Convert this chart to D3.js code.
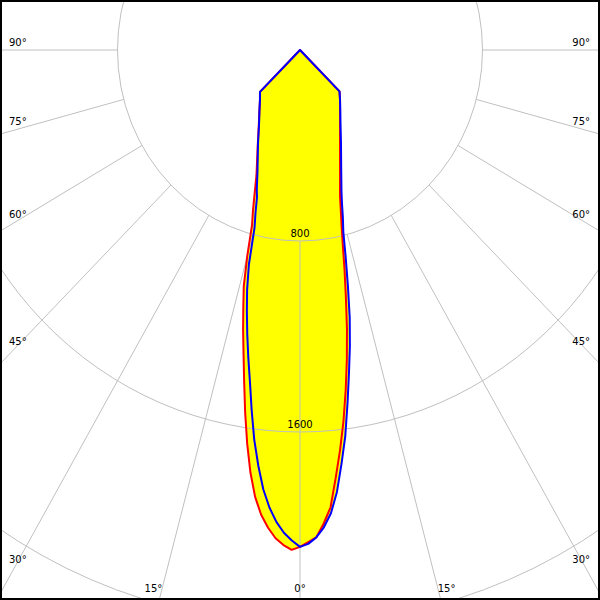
<!DOCTYPE html>
<html><head><meta charset="utf-8">
<script src="https://cdn.jsdelivr.net/npm/d3@7"></script>
<style>html,body{margin:0;padding:0;background:#fff;} svg{display:block;}</style>
</head><body>
<svg id="chart" width="600" height="600"></svg>
<script>
// Gamma angles (degrees from nadir) and luminous intensities (cd)
const gammaAngles = [0,1,2,3,4,5,6,7,8,9,10,11,12,13,14,15,16,17,18,20,25,30,35,40,45,50,60,70,80,90];
const redLeft   = [2081,2094,2075,2048,2006,1954,1882,1783,1664,1537,1410,1297,1200,1105,1019,893,763,706,649,558,438,361,310,273,248,0,0,0,0,0];
const redRight  = [2081,2062,2043,1986,1920,1798,1683,1565,1439,1313,1186,1054,938,832,752,690,636,600,568,513,415,351,306,273,245,0,0,0,0,0];
const blueLeft  = [2081,2055,2023,1979,1921,1847,1750,1645,1523,1404,1306,1212,1120,1031,926,770,707,645,613,545,436,359,310,273,248,0,0,0,0,0];
const blueRight = [2081,2069,2043,2002,1945,1858,1742,1629,1496,1372,1259,1142,1010,890,785,726,667,622,587,528,425,355,308,273,245,0,0,0,0,0];
const ringValues = [800, 1600, 2400];
const angleTicks = [0, 15, 30, 45, 60, 75, 90];

const W = 600, H = 600, cx = 300, cy = 50;
const sx = d3.scaleLinear().domain([0, 800]).range([0, 182.5]);
const sy = d3.scaleLinear().domain([0, 800]).range([0, 191]);
const rad = d => d * Math.PI / 180;
const px = (g, I) => cx + sx(I) * Math.sin(rad(g));
const py = (g, I) => cy + sy(I) * Math.cos(rad(g));

const svg = d3.select("#chart");
svg.append("defs").append("clipPath").attr("id", "clip")
  .append("rect").attr("x", 2).attr("y", 2).attr("width", W - 4).attr("height", H - 4);
const g = svg.append("g").attr("clip-path", "url(#clip)");

function curvePoints(left, right) {
  const pts = [];
  for (let i = gammaAngles.length - 1; i >= 0; i--) pts.push([-gammaAngles[i], left[i]]);
  for (let i = 1; i < gammaAngles.length; i++) pts.push([gammaAngles[i], right[i]]);
  return pts;
}
const line = d3.line().x(d => px(d[0], d[1])).y(d => py(d[0], d[1])).curve(d3.curveLinear);
const redPts = curvePoints(redLeft, redRight);
const bluePts = curvePoints(blueLeft, blueRight);

// yellow fill
g.append("path").attr("d", line(redPts) + "Z").attr("fill", "#ffff00").attr("stroke", "none");
g.append("path").attr("d", line(bluePts) + "Z").attr("fill", "#ffff00").attr("stroke", "none");

// grid
const gridColor = "#c0c0c0";
g.selectAll("ellipse.ring").data(ringValues).join("ellipse")
  .attr("cx", cx).attr("cy", cy)
  .attr("rx", d => sx(d)).attr("ry", d => sy(d))
  .attr("fill", "none").attr("stroke", gridColor).attr("stroke-width", 1);

const radial = [];
angleTicks.forEach(a => { radial.push(-a); if (a !== 0) radial.push(a); });
g.selectAll("line.rad").data(radial).join("line")
  .attr("x1", d => px(d, ringValues[0])).attr("y1", d => py(d, ringValues[0]))
  .attr("x2", d => px(d, 5000)).attr("y2", d => py(d, 5000))
  .attr("stroke", gridColor).attr("stroke-width", 1);

const font = "'DejaVu Sans', Verdana, sans-serif";
// ring labels (only those inside the frame)
g.selectAll("text.ring").data(ringValues.filter(d => cy + sy(d) - 4 < H - 12)).join("text")
  .attr("x", cx).attr("y", d => cy + sy(d) - 4)
  .attr("text-anchor", "middle").attr("font-family", font).attr("font-size", 10)
  .attr("fill", "#000").text(d => d);

// angle labels
function lineYatX(a, x) {
  const t = x / (sx(1) * Math.sin(rad(a)));
  return cy + t * sy(1) * Math.cos(rad(a));
}
function lineXatY(a, y) {
  const t = (y - cy) / (sy(1) * Math.cos(rad(a)));
  return t * sx(1) * Math.sin(rad(a));
}
const labels = [];
angleTicks.forEach(a => {
  if (a >= 30) {
    const yc = lineYatX(a, cx - 18) - 8 * Math.pow(Math.sin(rad(a)), 2);
    labels.push({t: a + "°", x: 9, y: yc, anchor: "start"});
    labels.push({t: a + "°", x: 590, y: yc, anchor: "end"});
  } else if (a === 0) {
    labels.push({t: "0°", x: cx, y: 588, anchor: "middle"});
  } else {
    const dx = lineXatY(a, 588);
    labels.push({t: a + "°", x: cx - dx, y: 588, anchor: "end"});
    labels.push({t: a + "°", x: cx + dx, y: 588, anchor: "start"});
  }
});
g.selectAll("text.ang").data(labels).join("text")
  .attr("x", d => d.x).attr("y", d => d.y).attr("dy", "0.36em")
  .attr("text-anchor", d => d.anchor).attr("font-family", font).attr("font-size", 10)
  .attr("fill", "#000").text(d => d.t);

// curves
g.append("path").attr("d", line(redPts) + "Z").attr("fill", "none")
  .attr("stroke", "#ff0000").attr("stroke-width", 2).attr("stroke-linejoin", "round");
g.append("path").attr("d", line(bluePts) + "Z").attr("fill", "none")
  .attr("stroke", "#0000ff").attr("stroke-width", 2).attr("stroke-linejoin", "round");

// frame
svg.append("rect").attr("x", 1).attr("y", 1).attr("width", W - 2).attr("height", H - 2)
  .attr("fill", "none").attr("stroke", "#000").attr("stroke-width", 2);
</script>
</body></html>
